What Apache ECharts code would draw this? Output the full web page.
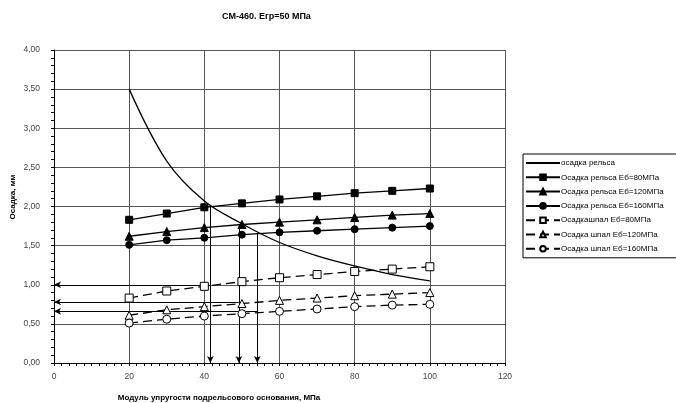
<!DOCTYPE html>
<html>
<head>
<meta charset="utf-8">
<script src="https://cdn.jsdelivr.net/npm/echarts@6/dist/echarts.min.js"></script>
<style>
  html, body { margin: 0; padding: 0; background: #fff; }
  #chart { width: 676px; height: 403px; }
</style>
</head>
<body>
<div id="chart"></div>
<script>
// Subgrade modulus, MPa
const moduli = [20, 30, 40, 50, 60, 70, 80, 90, 100];

// Rail settlement vs subgrade modulus, mm
const railSettlement = [3.50, 2.58, 2.07, 1.78, 1.54, 1.37, 1.24, 1.13, 1.05];

// Rail settlement for ballast modulus 80 / 120 / 160 MPa, mm
const rail80 = [1.83, 1.91, 1.99, 2.04, 2.09, 2.13, 2.17, 2.20, 2.23];
const rail120 = [1.62, 1.68, 1.73, 1.77, 1.80, 1.83, 1.86, 1.89, 1.91];
const rail160 = [1.51, 1.57, 1.60, 1.64, 1.67, 1.69, 1.71, 1.73, 1.75];

// Sleeper settlement for ballast modulus 80 / 120 / 160 MPa, mm
const sleeper80 = [0.83, 0.92, 0.98, 1.04, 1.09, 1.13, 1.17, 1.20, 1.23];
const sleeper120 = [0.61, 0.68, 0.72, 0.76, 0.80, 0.83, 0.86, 0.88, 0.90];
const sleeper160 = [0.51, 0.56, 0.60, 0.63, 0.66, 0.69, 0.72, 0.74, 0.75];

// Read-off construction: intersection moduli, rail settlement there, sleeper settlement read
const crossModulus = [41.6, 49.2, 54.1];
const crossRail = [2.00, 1.77, 1.66];
const sleeperRead = [1.00, 0.78, 0.66];

const seriesNames = [
  'осадка рельса',
  'Осадка рельса Еб=80МПа',
  'Осадка рельса Еб=120МПа',
  'Осадка рельса Еб=160МПа',
  'Осадкашпал Еб=80МПа',
  'Осадка шпал Еб=120МПа',
  'Осадка шпал Еб=160МПа'
];

const FONT = 'Liberation Sans, Arial, sans-serif';
const pairs = (ys) => moduli.map((x, i) => [x, ys[i]]);

function markerSeries(name, ys, symbol, size, filled, dashed) {
  return {
    name: name,
    type: 'line',
    data: pairs(ys),
    symbol: symbol,
    symbolSize: size,
    showSymbol: true,
    lineStyle: { color: '#000', width: 1.3, type: dashed ? [9, 5] : 'solid' },
    itemStyle: {
      color: filled ? '#000' : '#fff',
      borderColor: '#000',
      borderWidth: 1
    },
    z: 5
  };
}

// Arrows: vertical from each intersection down to the axis, horizontal to the settlement axis
const arrowLines = [];
crossModulus.forEach((x, i) => {
  arrowLines.push([{ coord: [x, crossRail[i]] }, { coord: [x, 0] }]);
  arrowLines.push([{ coord: [x, sleeperRead[i]] }, { coord: [0, sleeperRead[i]] }]);
});

// Legend entries; the plain curve is shown as a bare line
const legendData = seriesNames.map((name, i) =>
  i === 0 ? { name: name, itemStyle: { opacity: 0 } } : { name: name }
);

const option = {
  animation: false,
  backgroundColor: '#fff',
  textStyle: { fontFamily: FONT },
  grid: { left: 54, right: 171, top: 50, bottom: 40, containLabel: false },
  legend: {
    orient: 'vertical',
    left: 523,
    top: 154,
    data: legendData,
    itemWidth: 34,
    itemHeight: 7,
    itemGap: 6.3,
    padding: [5, 40, 5, 2],
    borderColor: '#000',
    borderWidth: 1,
    backgroundColor: '#fff',
    textStyle: { fontSize: 8, color: '#000', fontFamily: FONT, padding: [0, 0, 0, -4] }
  },
  xAxis: {
    type: 'value',
    min: 0, max: 120, interval: 20,
    axisLine: { show: true, lineStyle: { color: '#000', width: 1 } },
    axisTick: { show: true, length: 3, lineStyle: { color: '#000' } },
    minorTick: { show: true, splitNumber: 10, length: 3, lineStyle: { color: '#000' } },
    axisLabel: { fontSize: 8.5, color: '#444', margin: 9, fontFamily: FONT },
    splitLine: { show: true, lineStyle: { color: '#555', width: 1 } }
  },
  yAxis: {
    type: 'value',
    min: 0, max: 4, interval: 0.5,
    axisLine: { show: true, onZero: false, lineStyle: { color: '#000', width: 1 } },
    axisTick: { show: true, length: 3, lineStyle: { color: '#000' } },
    minorTick: { show: true, splitNumber: 5, length: 3, lineStyle: { color: '#000' } },
    axisLabel: {
      fontSize: 8.5, color: '#444', margin: 14, fontFamily: FONT,
      formatter: (v) => v.toFixed(2).replace('.', ',')
    },
    splitLine: { show: true, lineStyle: { color: '#555', width: 1 } }
  },
  graphic: [
    {
      type: 'text', left: 222, top: 12,
      style: { text: 'СМ-460. Егр=50 МПа', font: 'bold 9px ' + FONT, fill: '#000' }
    },
    {
      type: 'text', x: 13, y: 197, rotation: Math.PI / 2,
      style: {
        text: 'Осадка, мм', font: 'bold 8px ' + FONT, fill: '#000',
        align: 'center', verticalAlign: 'middle'
      }
    },
    {
      type: 'text', x: 219, y: 398,
      style: {
        text: 'Модуль упругости подрельсового основания, МПа', font: 'bold 8px ' + FONT,
        fill: '#000', align: 'center', verticalAlign: 'middle'
      }
    }
  ],
  series: [
    {
      name: seriesNames[0],
      type: 'line',
      data: pairs(railSettlement),
      smooth: 0.35,
      symbol: 'none',
      lineStyle: { color: '#000', width: 1.3 },
      itemStyle: { color: '#000' },
      z: 4,
      markLine: {
        silent: true,
        symbol: ['none', 'arrow'],
        symbolSize: [5, 7],
        label: { show: false },
        lineStyle: { color: '#000', width: 1, type: 'solid' },
        data: arrowLines
      }
    },
    markerSeries(seriesNames[1], rail80, 'rect', 7, true, false),
    markerSeries(seriesNames[2], rail120, 'triangle', 8, true, false),
    markerSeries(seriesNames[3], rail160, 'circle', 7, true, false),
    markerSeries(seriesNames[4], sleeper80, 'rect', 8, false, true),
    markerSeries(seriesNames[5], sleeper120, 'triangle', 8, false, true),
    markerSeries(seriesNames[6], sleeper160, 'circle', 8, false, true)
  ]
};

const chart = echarts.init(document.getElementById('chart'), null, { renderer: 'canvas' });
chart.setOption(option);
</script>
</body>
</html>
